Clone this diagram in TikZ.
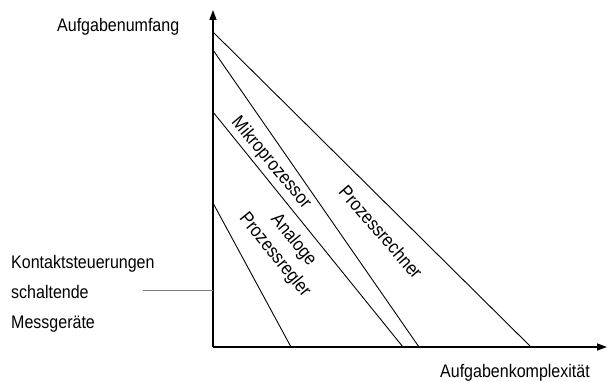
\documentclass[tikz,border=0pt]{standalone}
\usepackage{fontspec}
\setmainfont{Liberation Sans}[FakeStretch=0.88]
\usetikzlibrary{arrows.meta}
\begin{document}
\begin{tikzpicture}[x=1pt,y=-1pt,
  lbl/.style={inner sep=0pt,font=\fontsize{18.2}{20}\selectfont},
  rlbl/.style={inner sep=0pt,font=\fontsize{18.8}{24}\selectfont,align=center},
  axis/.style={line width=1.4pt,-{Triangle[length=10pt,width=7pt]}},
  band/.style={line width=0.9pt},
  tick/.style={line width=0.5pt,draw=gray}]
\useasboundingbox (0,0) rectangle (607,382);
% axes
\coordinate (O) at (213,347);
\coordinate (Ytop) at (213,10);
\coordinate (Xend) at (607,347);
\draw[axis] (O) -- (Ytop);
\draw[axis] (O) -- (Xend);
% band limits
\coordinate (a1) at (213,32);  \coordinate (b1) at (531,347);
\coordinate (a2) at (213,50);  \coordinate (b2) at (419,347);
\coordinate (a3) at (213,112); \coordinate (b3) at (403,347);
\coordinate (a4) at (213,203); \coordinate (b4) at (291,347);
\draw[band] (a1) -- (b1);
\draw[band] (a2) -- (b2);
\draw[band] (a3) -- (b3);
\draw[band] (a4) -- (b4);
% tick
\coordinate (t1) at (143,290);
\coordinate (t2) at (213,290);
\draw[tick] (t1) -- (t2);
% labels
\node[lbl,anchor=base west] (yl) at (57,32) {Aufgabenumfang};
\node[lbl,anchor=base west] (xl) at (440,377) {Aufgabenkomplexität};
\node[lbl,anchor=base west] (k1) at (11,268) {Kontaktsteuerungen};
\node[lbl,anchor=base west] (k2) at (11,298) {schaltende};
\node[lbl,anchor=base west] (k3) at (11,328) {Messgeräte};
\node[rlbl,rotate=-50] (mp) at (271,163) {Mikroprozessor};
\node[rlbl,rotate=-49] (pr) at (381,232) {Prozessrechner};
\node[rlbl,rotate=-51] (ap) at (284,248) {Analoge\\Prozessregler};
\end{tikzpicture}
\end{document}
